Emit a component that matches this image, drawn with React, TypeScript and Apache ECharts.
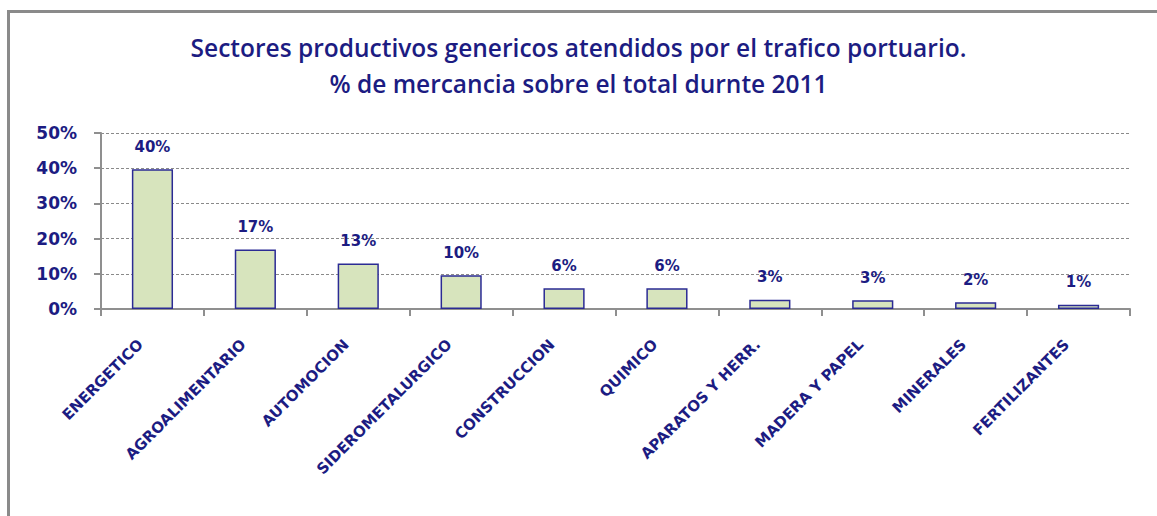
import React, { useEffect, useRef } from "react";
import * as echarts from "echarts";

const categories = [
  "ENERGETICO",
  "AGROALIMENTARIO",
  "AUTOMOCION",
  "SIDEROMETALURGICO",
  "CONSTRUCCION",
  "QUIMICO",
  "APARATOS Y HERR.",
  "MADERA Y PAPEL",
  "MINERALES",
  "FERTILIZANTES",
];
const shares = [39.7, 16.9, 12.9, 9.6, 5.9, 5.9, 2.6, 2.5, 1.9, 1.2];
const yTicks = [0, 10, 20, 30, 40, 50];
const titleLines = [
  "Sectores productivos genericos atendidos por el trafico portuario.",
  "% de mercancia sobre el total durnte 2011",
];

const NAVY = "#1c1c82";
const AXIS_GRAY = "#8f8f8f";
const FONT = "DejaVu Sans";

export default function App() {
  const ref = useRef<HTMLDivElement>(null);
  useEffect(() => {
    if (!ref.current) return;
    const chart = echarts.init(ref.current, null, { renderer: "svg" });
    chart.setOption({
      animation: false,
      backgroundColor: "#ffffff",
      graphic: [
        {
          type: "rect",
          left: 6,
          top: 9,
          shape: { x: 0, y: 0, width: 1300, height: 700 },
          style: { fill: "none", stroke: "#8a8a8a", lineWidth: 3 },
          silent: true,
        },
      ],
      title: {
        text: titleLines.join("\n"),
        left: "center",
        top: 24,
        textStyle: {
          fontFamily: "Open Sans",
          fontSize: 24.5,
          fontWeight: 600,
          color: NAVY,
          lineHeight: 36,
        },
      },
      grid: { left: 101, right: 27, top: 133, bottom: 207 },
      xAxis: {
        type: "category",
        data: categories,
        axisLine: { lineStyle: { color: AXIS_GRAY, width: 2 } },
        axisTick: { show: true, length: 7, lineStyle: { color: AXIS_GRAY, width: 2 } },
        axisLabel: {
          rotate: 45,
          margin: 21,
          padding: [0, 17, 0, 0],
          interval: 0,
          fontFamily: FONT,
          fontWeight: "bold",
          fontSize: 15,
          color: NAVY,
        },
      },
      yAxis: {
        type: "value",
        min: 0,
        max: 50,
        interval: 10,
        axisLine: { show: true, lineStyle: { color: AXIS_GRAY, width: 2 } },
        axisTick: { show: true, length: 7, lineStyle: { color: AXIS_GRAY, width: 2 } },
        splitLine: { lineStyle: { color: "#8a8a8a", type: [3, 2], width: 1 } },
        axisLabel: {
          margin: 24,
          fontFamily: FONT,
          fontWeight: "bold",
          fontSize: 17,
          color: NAVY,
          formatter: (v: number) => (yTicks.includes(v) ? `${v}%` : ""),
        },
      },
      series: [
        {
          type: "bar",
          data: shares,
          barWidth: "40%",
          itemStyle: { color: "#d7e4bd", borderColor: "#2b2b94", borderWidth: 1.5 },
          label: {
            show: true,
            position: "top",
            distance: 15,
            fontFamily: FONT,
            fontWeight: "bold",
            fontSize: 15,
            color: NAVY,
            formatter: (p: any) => `${Math.round(p.value)}%`,
          },
        },
      ],
    });
    return () => chart.dispose();
  }, []);
  return (
    <div
      ref={ref}
      style={{ position: "fixed", left: 0, top: 0, width: 1157, height: 516 }}
    />
  );
}
